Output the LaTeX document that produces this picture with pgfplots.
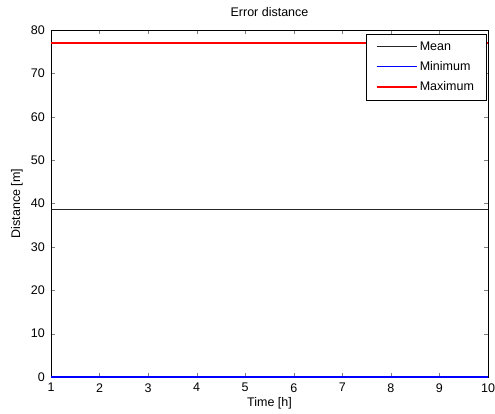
\documentclass[border=0pt]{standalone}
\usepackage{xcolor}
\usepackage{pgfplots}
\pgfplotsset{compat=1.18}
\usepackage{fontspec}
\setmainfont{Liberation Sans}
\definecolor{mblue}{HTML}{0000FF}
\definecolor{mred}{HTML}{FF0000}
\begin{document}
\begin{tikzpicture}
\begin{axis}[
  scale only axis, width=349.6pt, height=277.6pt,
  xmin=1, xmax=10, ymin=0, ymax=80,
  xtick={1,...,10}, ytick={0,10,...,80},
  tick align=inside, major tick length=3.2pt,
  axis line style={line width=0.6pt},
  /pgf/number format/assume math mode=true,
  xticklabel style={yshift=-1.5pt},
  yticklabel style={xshift=-1.5pt},
  title={Error distance},
  every axis title shift=0pt,
  title style={at={(axis description cs:0.5,1.0519)}, anchor=center},
  xlabel={Time [h]}, ylabel={Distance [m]},
  xlabel style={at={(axis description cs:0.5,-0.0749)}, anchor=center},
  ylabel style={at={(axis description cs:-0.0778,0.5)}, anchor=center},
  legend cell align=left,
  legend style={at={(axis description cs:0.997,0.989)}, anchor=north east,
    draw=black, inner xsep=8pt, inner ysep=4pt, row sep=3.5pt,
    font=\fontsize{10}{12}\selectfont},
  legend image code/.code={\draw[#1] (0pt,0pt) -- (32pt,0pt);},
]
\coordinate (sw) at (rel axis cs:0,0);
% mean
\addplot[draw=black!85, line width=0.6pt, forget plot] coordinates {(1,38.7) (2,38.7) (3,38.7) (4,38.7) (5,38.7) (6,38.7) (7,38.7) (8,38.7) (9,38.7) (10,38.7)};
% maximum
\addplot[draw=mred, line width=0.9pt, forget plot] coordinates {(1,77) (2,77) (3,77) (4,77) (5,77) (6,77) (7,77) (8,77) (9,77) (10,77)};
% minimum
\addplot[draw=mblue, line width=0.9pt, forget plot] coordinates {(1,0) (2,0) (3,0) (4,0) (5,0) (6,0) (7,0) (8,0) (9,0) (10,0)};
\addlegendimage{draw=black!85, line width=0.6pt}
\addlegendentry{Mean}
\addlegendimage{draw=mblue, line width=0.9pt}
\addlegendentry{Minimum}
\addlegendimage{draw=mred, line width=1.2pt}
\addlegendentry{Maximum}
\end{axis}
\pgfresetboundingbox
\path[use as bounding box] ([shift={(-40.8pt,-28.8pt)}]sw) rectangle ++(396pt,330.4pt);
\end{tikzpicture}
\end{document}
